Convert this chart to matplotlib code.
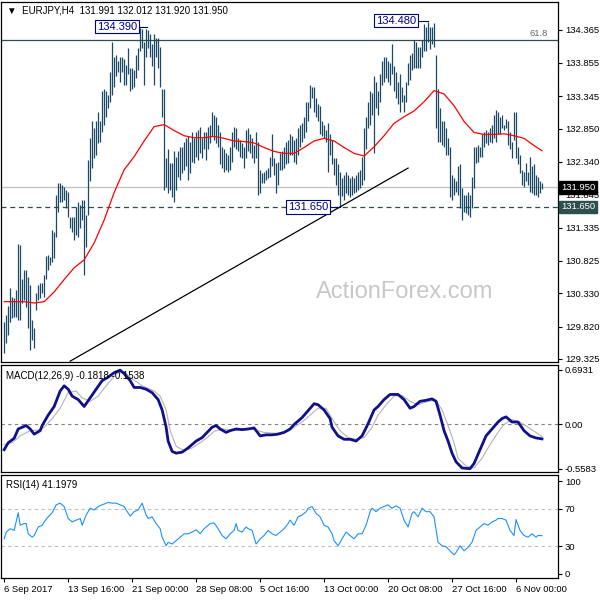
import matplotlib
matplotlib.use('Agg')
import matplotlib.pyplot as plt
import matplotlib.transforms as mtransforms

plt.rcParams['font.family'] = ['Liberation Sans', 'DejaVu Sans']

# EURJPY H4 bars (high / low)
bar_high = [
    129.89, 130.00, 130.14, 130.41, 130.27, 130.26, 130.38, 131.09, 131.07, 130.54,
    130.69, 130.69, 130.58, 130.46, 129.92, 129.80, 130.34, 130.46, 130.49, 130.49,
    130.61, 130.90, 130.92, 130.89, 131.30, 131.27, 131.84, 132.02, 132.02, 131.99,
    131.96, 131.91, 131.88, 131.50, 131.50, 131.50, 131.65, 131.72, 131.68, 131.76,
    131.76, 131.53, 132.37, 132.71, 132.96, 132.86, 132.96, 133.11, 132.96, 133.42,
    133.45, 133.42, 133.37, 133.71, 134.18, 133.94, 133.98, 133.88, 133.95, 133.94,
    133.91, 133.83, 134.09, 133.78, 133.78, 133.75, 133.98, 134.09, 134.39, 134.38,
    134.18, 134.37, 134.36, 134.29, 134.14, 134.29, 134.24, 134.24, 134.10, 133.45,
    133.45, 132.40, 132.53, 132.33, 132.33, 132.50, 132.42, 132.50, 132.57, 132.57,
    132.65, 132.71, 132.73, 132.65, 132.79, 132.71, 132.80, 132.83, 132.88, 132.71,
    132.80, 132.79, 132.88, 132.91, 133.11, 133.06, 133.03, 132.91, 132.79, 132.56,
    132.53, 132.48, 132.45, 132.57, 132.80, 132.88, 132.86, 132.71, 132.68, 132.63,
    132.56, 132.83, 132.86, 132.76, 132.71, 132.60, 132.79, 132.65, 132.22, 132.17,
    132.19, 132.22, 132.25, 132.42, 132.77, 132.40, 132.33, 132.34, 132.48, 132.50,
    132.56, 132.65, 132.68, 132.76, 132.73, 132.68, 132.71, 132.86, 132.91, 132.94,
    133.02, 133.25, 133.25, 133.52, 133.49, 133.49, 133.32, 133.22, 133.19, 132.96,
    132.91, 132.83, 132.94, 132.76, 132.68, 132.40, 132.40, 132.30, 132.19, 132.10,
    132.14, 132.19, 132.14, 132.10, 132.13, 132.10, 132.14, 132.19, 132.22, 132.42,
    132.86, 133.02, 133.26, 133.42, 133.40, 133.65, 133.57, 133.42, 133.68, 133.88,
    133.94, 133.95, 133.88, 133.86, 134.14, 133.80, 133.72, 133.57, 133.68, 133.48,
    133.37, 133.57, 133.86, 133.98, 134.01, 134.21, 134.17, 134.10, 134.10, 134.21,
    134.45, 134.40, 134.48, 134.41, 134.40, 134.46, 133.98, 133.45, 133.17, 132.96,
    132.96, 132.86, 132.71, 132.56, 132.14, 132.10, 132.04, 132.27, 132.30, 131.94,
    131.84, 131.84, 131.88, 131.84, 132.11, 132.56, 132.57, 132.60, 132.57, 132.76,
    132.80, 132.83, 132.80, 132.86, 132.91, 133.06, 133.14, 133.11, 133.02, 133.06,
    132.91, 132.99, 132.96, 132.79, 132.65, 133.11, 133.11, 132.56, 132.45, 132.22,
    132.19, 132.33, 132.19, 132.42, 132.27, 132.30, 132.14, 132.11, 132.04, 132.012,
]
bar_low = [
    129.42, 129.57, 129.69, 129.89, 129.95, 129.97, 129.97, 129.92, 129.92, 130.18,
    130.23, 130.12, 129.80, 129.46, 129.62, 129.49, 130.08, 130.23, 130.26, 130.34,
    130.27, 130.54, 130.69, 130.76, 130.81, 130.87, 131.19, 131.58, 131.72, 131.73,
    131.76, 131.64, 131.50, 131.33, 131.26, 131.15, 131.22, 131.19, 131.33, 131.45,
    130.61, 131.03, 131.53, 132.04, 132.25, 132.40, 132.45, 132.63, 132.65, 132.80,
    132.91, 133.02, 133.17, 133.26, 133.37, 133.48, 133.65, 133.72, 133.57, 133.71,
    133.52, 133.52, 133.68, 133.42, 133.45, 133.49, 133.63, 133.75, 134.03, 134.09,
    133.52, 133.94, 134.09, 133.94, 133.80, 133.52, 133.94, 133.78, 133.49, 133.03,
    131.91, 131.96, 131.87, 131.91, 131.81, 131.73, 131.91, 132.11, 132.07, 132.17,
    132.22, 132.27, 132.07, 132.17, 132.34, 132.33, 132.42, 132.37, 132.48, 132.40,
    132.53, 132.37, 132.53, 132.63, 132.73, 132.68, 132.63, 132.56, 132.30, 132.25,
    132.19, 132.22, 132.19, 132.22, 132.34, 132.56, 132.53, 132.50, 132.42, 132.40,
    132.25, 132.40, 132.50, 132.48, 132.40, 132.33, 132.40, 131.84, 131.87, 132.02,
    132.02, 132.07, 132.10, 132.11, 132.27, 132.14, 131.87, 131.99, 132.22, 132.22,
    132.25, 132.30, 132.33, 132.45, 132.45, 132.34, 132.30, 132.45, 132.56, 132.65,
    132.71, 132.80, 132.96, 133.17, 133.32, 133.11, 133.02, 132.96, 132.76, 132.73,
    132.71, 132.65, 132.19, 132.45, 132.30, 132.14, 131.99, 131.84, 131.65, 131.82,
    131.76, 131.87, 131.84, 131.81, 131.84, 131.87, 131.88, 131.91, 131.94, 131.99,
    132.07, 132.53, 132.86, 132.91, 133.06, 132.48, 133.17, 133.06, 133.25, 133.52,
    133.57, 133.63, 133.57, 133.52, 133.68, 133.42, 133.32, 133.22, 133.11, 133.25,
    133.11, 133.25, 133.52, 133.60, 133.75, 133.78, 133.78, 133.78, 133.78, 133.94,
    134.03, 134.03, 134.18, 134.06, 134.14, 134.10, 132.86, 132.65, 132.65, 132.60,
    132.57, 132.45, 132.45, 131.81, 131.76, 131.84, 131.88, 131.84, 131.64, 131.45,
    131.58, 131.56, 131.53, 131.50, 131.64, 131.94, 132.33, 132.34, 132.42, 132.42,
    132.56, 132.63, 132.60, 132.65, 132.63, 132.71, 132.65, 132.76, 132.76, 132.86,
    132.83, 132.86, 132.60, 132.53, 132.40, 132.68, 132.40, 132.30, 132.17, 131.99,
    131.96, 132.04, 131.99, 131.88, 131.87, 131.84, 131.84, 131.81, 131.87, 131.92,
]

# red moving average, sampled every 5 bars
ma_idx = list(range(0, 270, 5)) + [269]
ma_val = [
    130.20, 130.20, 130.20, 130.18, 130.20, 130.35, 130.54, 130.72, 130.84, 131.10,
    131.45, 131.87, 132.22, 132.42, 132.66, 132.88, 132.91, 132.82, 132.74, 132.71,
    132.71, 132.73, 132.70, 132.66, 132.65, 132.63, 132.56, 132.50, 132.47, 132.47,
    132.56, 132.66, 132.70, 132.66, 132.56, 132.47, 132.43, 132.57, 132.74, 132.93,
    133.03, 133.12, 133.26, 133.43, 133.38, 133.20, 132.96, 132.79, 132.76, 132.76,
    132.77, 132.74, 132.70, 132.59, 132.51,
]

# MACD main line
macd_idx = [0, 2, 5, 7, 9, 11, 13, 15, 18, 19, 22, 25, 28, 30, 32, 34, 37, 40, 43, 46,
            49, 52, 55, 58, 60, 63, 65, 68, 71, 74, 77, 79, 81, 82, 84, 86, 89, 92, 96, 99,
            102, 104, 106, 108, 111, 113, 116, 119, 122, 125, 128, 131, 134, 137, 140, 143,
            145, 149, 152, 155, 157, 160, 163, 164, 167, 170, 173, 176, 179, 182, 185, 187,
            190, 193, 197, 200, 203, 205, 208, 211, 214, 216, 218, 220, 222, 224, 226, 229,
            233, 235, 238, 241, 244, 247, 249, 251, 254, 257, 260, 263, 266, 269]
macd_val = [-0.318, -0.231, -0.174, -0.057, -0.035, -0.013, -0.057, -0.122, -0.078, -0.013,
            0.118, 0.227, 0.423, 0.488, 0.445, 0.358, 0.314, 0.227, 0.336, 0.445,
            0.554, 0.597, 0.654, 0.685, 0.641, 0.554, 0.467, 0.467, 0.445, 0.401,
            0.314, 0.183, -0.035, -0.209, -0.340, -0.362, -0.349, -0.296, -0.209, -0.166,
            -0.087, -0.035, -0.013, -0.057, -0.100, -0.078, -0.057, -0.065, -0.057, -0.044,
            -0.144, -0.131, -0.131, -0.122, -0.100, -0.057, 0.000, 0.087, 0.174, 0.262,
            0.249, 0.183, 0.074, -0.035, -0.144, -0.187, -0.187, -0.209, -0.144, 0.009,
            0.183, 0.227, 0.314, 0.379, 0.379, 0.314, 0.205, 0.227, 0.292, 0.305,
            0.323, 0.292, 0.118, -0.078, -0.209, -0.362, -0.471, -0.549, -0.558, -0.493,
            -0.318, -0.144, -0.057, 0.031, 0.074, 0.096, 0.031, 0.031, -0.078, -0.144,
            -0.170, -0.182]

# MACD signal line
sig_idx = [0, 4, 8, 13, 17, 20, 24, 28, 32, 36, 39, 43, 47, 51, 56, 60, 64, 69, 75, 78,
           81, 83, 86, 90, 94, 98, 102, 105, 109, 113, 119, 124, 130, 136, 142, 145, 149,
           153, 157, 161, 164, 168, 172, 176, 180, 184, 187, 191, 195, 199, 203, 207, 212,
           216, 219, 222, 225, 227, 231, 235, 239, 243, 247, 250, 254, 258, 262, 266, 269]
sig_val = [-0.253, -0.231, -0.144, -0.078, -0.070, -0.035, 0.074, 0.205, 0.401, 0.423,
           0.336, 0.292, 0.358, 0.488, 0.641, 0.663, 0.576, 0.488, 0.423, 0.358,
           0.183, -0.078, -0.275, -0.331, -0.296, -0.231, -0.157, -0.087, -0.057, -0.070,
           -0.070, -0.057, -0.100, -0.113, -0.087, -0.035, 0.031, 0.118, 0.205, 0.205,
           0.074, -0.078, -0.166, -0.187, -0.166, -0.035, 0.118, 0.249, 0.358, 0.366,
           0.292, 0.249, 0.292, 0.305, 0.183, -0.013, -0.231, -0.427, -0.523, -0.549,
           -0.427, -0.253, -0.100, 0.000, 0.061, 0.031, -0.035, -0.100, -0.154]

# RSI(14)
rsi_idx = [0, 1, 3, 5, 7, 8, 10, 11, 12, 14, 15, 17, 19, 20, 22, 24, 26, 28, 30, 32,
           34, 36, 38, 39, 41, 43, 45, 47, 49, 52, 54, 56, 58, 60, 61, 63, 65, 67, 69, 71,
           72, 74, 76, 78, 79, 81, 82, 84, 86, 88, 90, 92, 94, 96, 98, 100, 102, 103, 105,
           107, 109, 111, 113, 115, 116, 117, 119, 121, 122, 124, 126, 128, 130, 132, 134,
           136, 138, 140, 142, 143, 145, 147, 149, 151, 152, 154, 156, 158, 160, 162, 164,
           165, 167, 169, 171, 173, 175, 177, 179, 181, 183, 184, 186, 188, 190, 192, 194,
           196, 198, 200, 202, 204, 205, 207, 209, 211, 213, 215, 217, 219, 221, 223, 225,
           226, 228, 230, 232, 234, 236, 238, 240, 242, 244, 246, 247, 249, 251, 253, 255,
           256, 258, 260, 262, 264, 266, 267, 269]
rsi_val = [37.7, 45.1, 48.7, 46.9, 65.9, 52.4, 54.2, 54.2, 43.2, 39.6, 41.4, 50.5, 52.4,
           56.0, 61.5, 65.9, 74.4, 76.2, 72.5, 59.7, 56.0, 57.9, 59.7, 52.4, 63.4, 70.7,
           68.9, 72.5, 74.4, 76.9, 76.2, 76.2, 74.4, 72.5, 68.9, 62.3, 67.0, 68.9, 76.2,
           63.4, 59.7, 61.5, 54.2, 48.7, 39.6, 30.4, 34.1, 32.2, 35.9, 39.6, 43.2, 43.2,
           45.1, 47.6, 43.2, 48.7, 52.4, 54.2, 54.9, 48.7, 41.4, 37.7, 43.2, 46.9, 54.2,
           46.9, 45.1, 50.5, 48.7, 46.9, 32.2, 37.7, 41.4, 46.9, 43.2, 41.4, 45.1, 48.7,
           54.2, 57.9, 52.4, 61.5, 63.4, 67.0, 70.7, 72.5, 65.2, 61.5, 52.4, 50.5, 43.2,
           35.9, 30.4, 37.7, 45.1, 41.4, 37.7, 43.2, 43.2, 52.4, 67.0, 70.7, 67.0, 70.7,
           72.5, 74.4, 70.7, 73.3, 70.7, 57.9, 50.5, 65.2, 67.0, 61.5, 70.7, 67.0, 67.0,
           61.5, 34.1, 30.4, 29.3, 24.9, 20.5, 23.1, 30.4, 24.9, 28.6, 34.1, 46.9, 50.5,
           54.2, 52.4, 56.0, 57.9, 59.7, 59.7, 57.9, 46.9, 41.4, 58.6, 46.9, 41.4, 39.6,
           43.2, 39.6, 41.4, 41.2]

price_ticks = [129.325, 129.820, 130.330, 130.825, 131.335, 131.845,
               132.340, 132.850, 133.345, 133.855, 134.365]
date_idx = [0, 32, 64, 96, 128, 160, 192, 224, 256]
date_labels = ['6 Sep 2017', '13 Sep 16:00', '21 Sep 00:00', '28 Sep 08:00',
               '5 Oct 16:00', '13 Oct 00:00', '20 Oct 08:00', '27 Oct 16:00',
               '6 Nov 00:00']

fib_level = 134.21
last_price = 131.950
support = 131.650
trend_x = [33, 202]
trend_y = [129.29, 132.245]

bar_col = '#1b4965'
fs = 6.8

fig = plt.figure(figsize=(6, 6), dpi=100)
ax = fig.add_axes([0.002, 0.397, 0.928, 0.6])
ax_m = fig.add_axes([0.002, 0.2133, 0.928, 0.1783])
ax_r = fig.add_axes([0.002, 0.0367, 0.928, 0.1717])

xlim = (-1.5, 277)
idx = list(range(len(bar_high)))

# --- price panel
ax.vlines(idx, bar_low, bar_high, color=bar_col, lw=0.9, zorder=3)
ax.plot(ma_idx, ma_val, color='red', lw=0.9, zorder=4)
ax.axhline(fib_level, color='#2f4f4f', lw=0.9, zorder=2)
ax.axhline(last_price, color='#c0c0c0', lw=0.9, zorder=1)
ax.axhline(support, color='#2f4f4f', lw=0.9, ls=(0, (4, 3)), zorder=2)
ax.plot(trend_x, trend_y, color='black', lw=0.9, zorder=5)
ax.set_xlim(*xlim)
ax.set_ylim(129.28, 134.79)
ax.text(272, fib_level + 0.03, '61.8', ha='right', va='bottom', fontsize=fs, color='#5a6a70')

box = dict(boxstyle='square,pad=0.15', fc='white', ec='#000080', lw=0.8)
for tx, ty, x1, x2, txt in [(56.5, 134.41, 66.5, 71.5, '134.390'),
                            (196, 134.50, 207, 212, '134.480'),
                            (152, 131.65, 163, 168, '131.650')]:
    ax.plot([x1, x2], [ty, ty], color='#000080', lw=0.8, zorder=6)
    ax.text(tx, ty, txt, ha='center', va='center', fontsize=8, color='#000080', bbox=box, zorder=7)

ax.text(0.725, 0.194, 'ActionForex.com', transform=ax.transAxes, ha='center', va='center',
        fontsize=17, color='#c8c8c8', zorder=0)
ax.text(0.01, 0.975, '\u25bc  EURJPY,H4  131.991 132.012 131.920 131.950', transform=ax.transAxes,
        ha='left', va='center', fontsize=7, color='black')

ax.yaxis.tick_right()
ax.set_yticks(price_ticks)
ax.set_yticklabels([f'{t:.3f}' for t in price_ticks])
ax.set_xticks([])

trans = mtransforms.blended_transform_factory(ax.transAxes, ax.transData)
ax.text(1.006, last_price, '131.950', transform=trans, ha='left', va='center', fontsize=fs,
        color='white', bbox=dict(boxstyle='square,pad=0.2', fc='black', ec='black'), zorder=10)
ax.text(1.006, support, '131.650', transform=trans, ha='left', va='center', fontsize=fs,
        color='white', bbox=dict(boxstyle='square,pad=0.2', fc='#2f4f4f', ec='#2f4f4f'), zorder=10)

# --- MACD panel
ax_m.axhline(0, color='#808080', lw=0.8, ls=(0, (3, 3)))
ax_m.plot(sig_idx, sig_val, color='#b4b4b4', lw=0.8)
ax_m.plot(macd_idx, macd_val, color='#10108c', lw=2)
ax_m.set_xlim(*xlim)
ax_m.set_ylim(-0.60, 0.75)
ax_m.yaxis.tick_right()
ax_m.set_yticks([-0.5583, 0.0, 0.6931])
ax_m.set_yticklabels(['-0.5583', '0.00', '0.6931'])
ax_m.set_xticks([])
ax_m.text(0.008, 0.9, 'MACD(12,26,9) -0.1818 -0.1538', transform=ax_m.transAxes,
          ha='left', va='center', fontsize=7)

# --- RSI panel
for lvl in (70, 30):
    ax_r.axhline(lvl, color='#c0c0c0', lw=0.8, ls=(0, (3, 3)))
ax_r.plot(rsi_idx, rsi_val, color='#1e90ff', lw=0.8)
ax_r.set_xlim(*xlim)
ax_r.set_ylim(-4.3, 106.5)
ax_r.yaxis.tick_right()
ax_r.set_yticks([0, 30, 70, 100])
ax_r.set_xticks(date_idx)
ax_r.set_xticklabels(date_labels)
for lbl in ax_r.get_xticklabels():
    lbl.set_ha('left')
ax_r.text(0.008, 0.9, 'RSI(14) 41.1979', transform=ax_r.transAxes,
          ha='left', va='center', fontsize=7)

for a in (ax, ax_m, ax_r):
    a.tick_params(labelsize=fs, length=3, width=0.8, pad=2)
    for s in a.spines.values():
        s.set_linewidth(0.9)

fig.savefig('out.png', dpi=100)
